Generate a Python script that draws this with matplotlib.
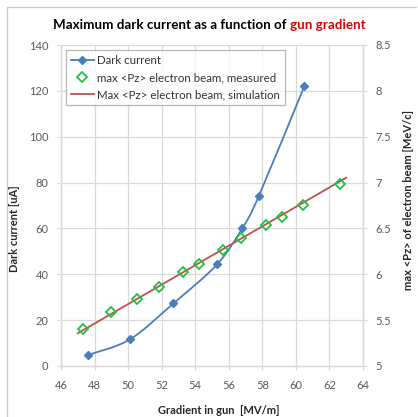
import numpy as np
import matplotlib.pyplot as plt
from matplotlib.path import Path
from matplotlib.patches import PathPatch
from matplotlib.lines import Line2D

# Dark current (left axis)
grad_dark = [47.6, 50.1, 52.7, 55.3, 56.8, 57.8, 60.5]
dark_current = [4.8, 11.6, 27.3, 44.3, 60.0, 74.3, 122.0]

# max <Pz>, measured (right axis)
grad_meas = [47.3, 49.0, 50.55, 51.85, 53.3, 54.2, 55.65, 56.75, 58.2, 59.2, 60.45, 62.6]
pz_meas = [5.40, 5.585, 5.73, 5.86, 6.02, 6.11, 6.26, 6.40, 6.54, 6.62, 6.76, 6.98]

# max <Pz>, simulation (right axis)
grad_sim = [47.0, 63.0]
pz_sim = [5.357, 7.053]

x_ticks = list(range(46, 65, 2))
left_ticks = list(range(0, 141, 20))
right_ticks = [5, 5.5, 6, 6.5, 7, 7.5, 8, 8.5]

BLUE = '#4a7ebb'
GREEN = '#1fc043'
RED = '#c0504d'
GRID = '#d9d9d9'
TICKC = '#595959'

plt.rcParams['font.family'] = ['Lato', 'DejaVu Sans']

W, H = 418, 417
fig = plt.figure(figsize=(W / 100, H / 100), dpi=100)
ax = fig.add_axes([61 / W, 1 - 366 / H, 302 / W, 321 / H])
ax2 = ax.twinx()

# chart frame (Excel style border)
fig.add_artist(Line2D([7 / W, 7 / W], [0, 1 - 7 / H], color='#c8c8c8', lw=0.9))
fig.add_artist(Line2D([7 / W, 416 / W], [1 - 7 / H, 1 - 7 / H], color='#c8c8c8', lw=0.9))


def smooth_path(xs, ys):
    # Bezier path through the points (Catmull-Rom tangents, like Excel's smoothed line)
    pts = np.column_stack([xs, ys]).astype(float)
    verts = [pts[0]]
    codes = [Path.MOVETO]
    n = len(pts)
    for i in range(n - 1):
        p0 = pts[i - 1] if i > 0 else pts[i]
        p1 = pts[i]
        p2 = pts[i + 1]
        p3 = pts[i + 2] if i + 2 < n else pts[i + 1]
        c1 = p1 + (p2 - p0) / 6.0
        c2 = p2 - (p3 - p1) / 6.0
        verts += [c1, c2, p2]
        codes += [Path.CURVE4] * 3
    return Path(verts, codes)


ax.add_patch(PathPatch(smooth_path(grad_dark, dark_current), fill=False,
                       edgecolor=BLUE, lw=1.3, zorder=3))
ax.plot(grad_dark, dark_current, linestyle='none', marker='D', ms=4,
        color=BLUE, zorder=4)

ax2.plot(grad_sim, pz_sim, color=RED, lw=1.3, zorder=2)
ax2.plot(grad_meas, pz_meas, linestyle='none', marker='D', ms=5.5,
         mfc='none', mec=GREEN, mew=1.3, zorder=3)

ax.set_xlim(46, 64)
ax.set_ylim(0, 140)
ax2.set_ylim(5, 8.5)
ax.set_xticks(x_ticks)
ax.set_yticks(left_ticks)
ax2.set_yticks(right_ticks)
ax2.set_yticklabels(['%g' % v for v in right_ticks])

ax.grid(True, color=GRID, lw=0.9)
ax.set_axisbelow(True)
for a in (ax, ax2):
    for s in a.spines.values():
        s.set_color(GRID)
        s.set_linewidth(0.9)
    a.spines['top'].set_visible(False)
ax.tick_params(axis='both', colors=GRID, labelcolor=TICKC, labelsize=8,
               length=3, width=0.9)
ax.tick_params(axis='y', pad=6)
ax.tick_params(axis='x', pad=7)
ax2.tick_params(axis='y', colors=GRID, labelcolor=TICKC, labelsize=8,
                length=3, width=0.9, pad=6)

# axis titles
fig.text(15 / W, 1 - 229 / H, 'Dark current [uA]', rotation=90, ha='center',
         va='center', fontsize=8, fontweight='bold', color='#262626')
fig.text(408 / W, 1 - 200 / H, 'max <Pz> of electron beam [MeV/c]', rotation=90,
         ha='center', va='center', fontsize=8, fontweight='bold', color='#262626')
fig.text(219 / W, 1 - 411 / H, 'Gradient in gun  [MV/m]', ha='center',
         va='center', fontsize=8, fontweight='bold', color='#262626')

# two-colour title
t1 = fig.text(53 / W, 1 - 25 / H, 'Maximum dark current as a function of ',
              ha='left', va='center', fontsize=9.6, fontweight='bold', color='black')
ax.annotate('gun gradient', xy=(1, 0.5), xycoords=t1, ha='left', va='center',
            fontsize=9.6, fontweight='bold', color='#e00000', annotation_clip=False)

handles = [
    Line2D([], [], color=BLUE, lw=1.3, marker='D', ms=4),
    Line2D([], [], linestyle='none', marker='D', ms=5.5, mfc='none', mec=GREEN, mew=1.3),
    Line2D([], [], color=RED, lw=1.3),
]
labels = ['Dark current', 'max <Pz> electron beam, measured',
          'Max <Pz> electron beam, simulation']
leg = ax2.legend(handles, labels, loc='upper left', bbox_to_anchor=(0.005, 0.995),
                 fontsize=8.3, frameon=True, fancybox=False, edgecolor='#a6a6a6',
                 handlelength=2.0, handletextpad=0.3, borderpad=0.4,
                 labelspacing=0.55, borderaxespad=0.3)
leg.get_frame().set_linewidth(0.9)
for t in leg.get_texts():
    t.set_color('#333333')

fig.savefig('out.png', dpi=100)
